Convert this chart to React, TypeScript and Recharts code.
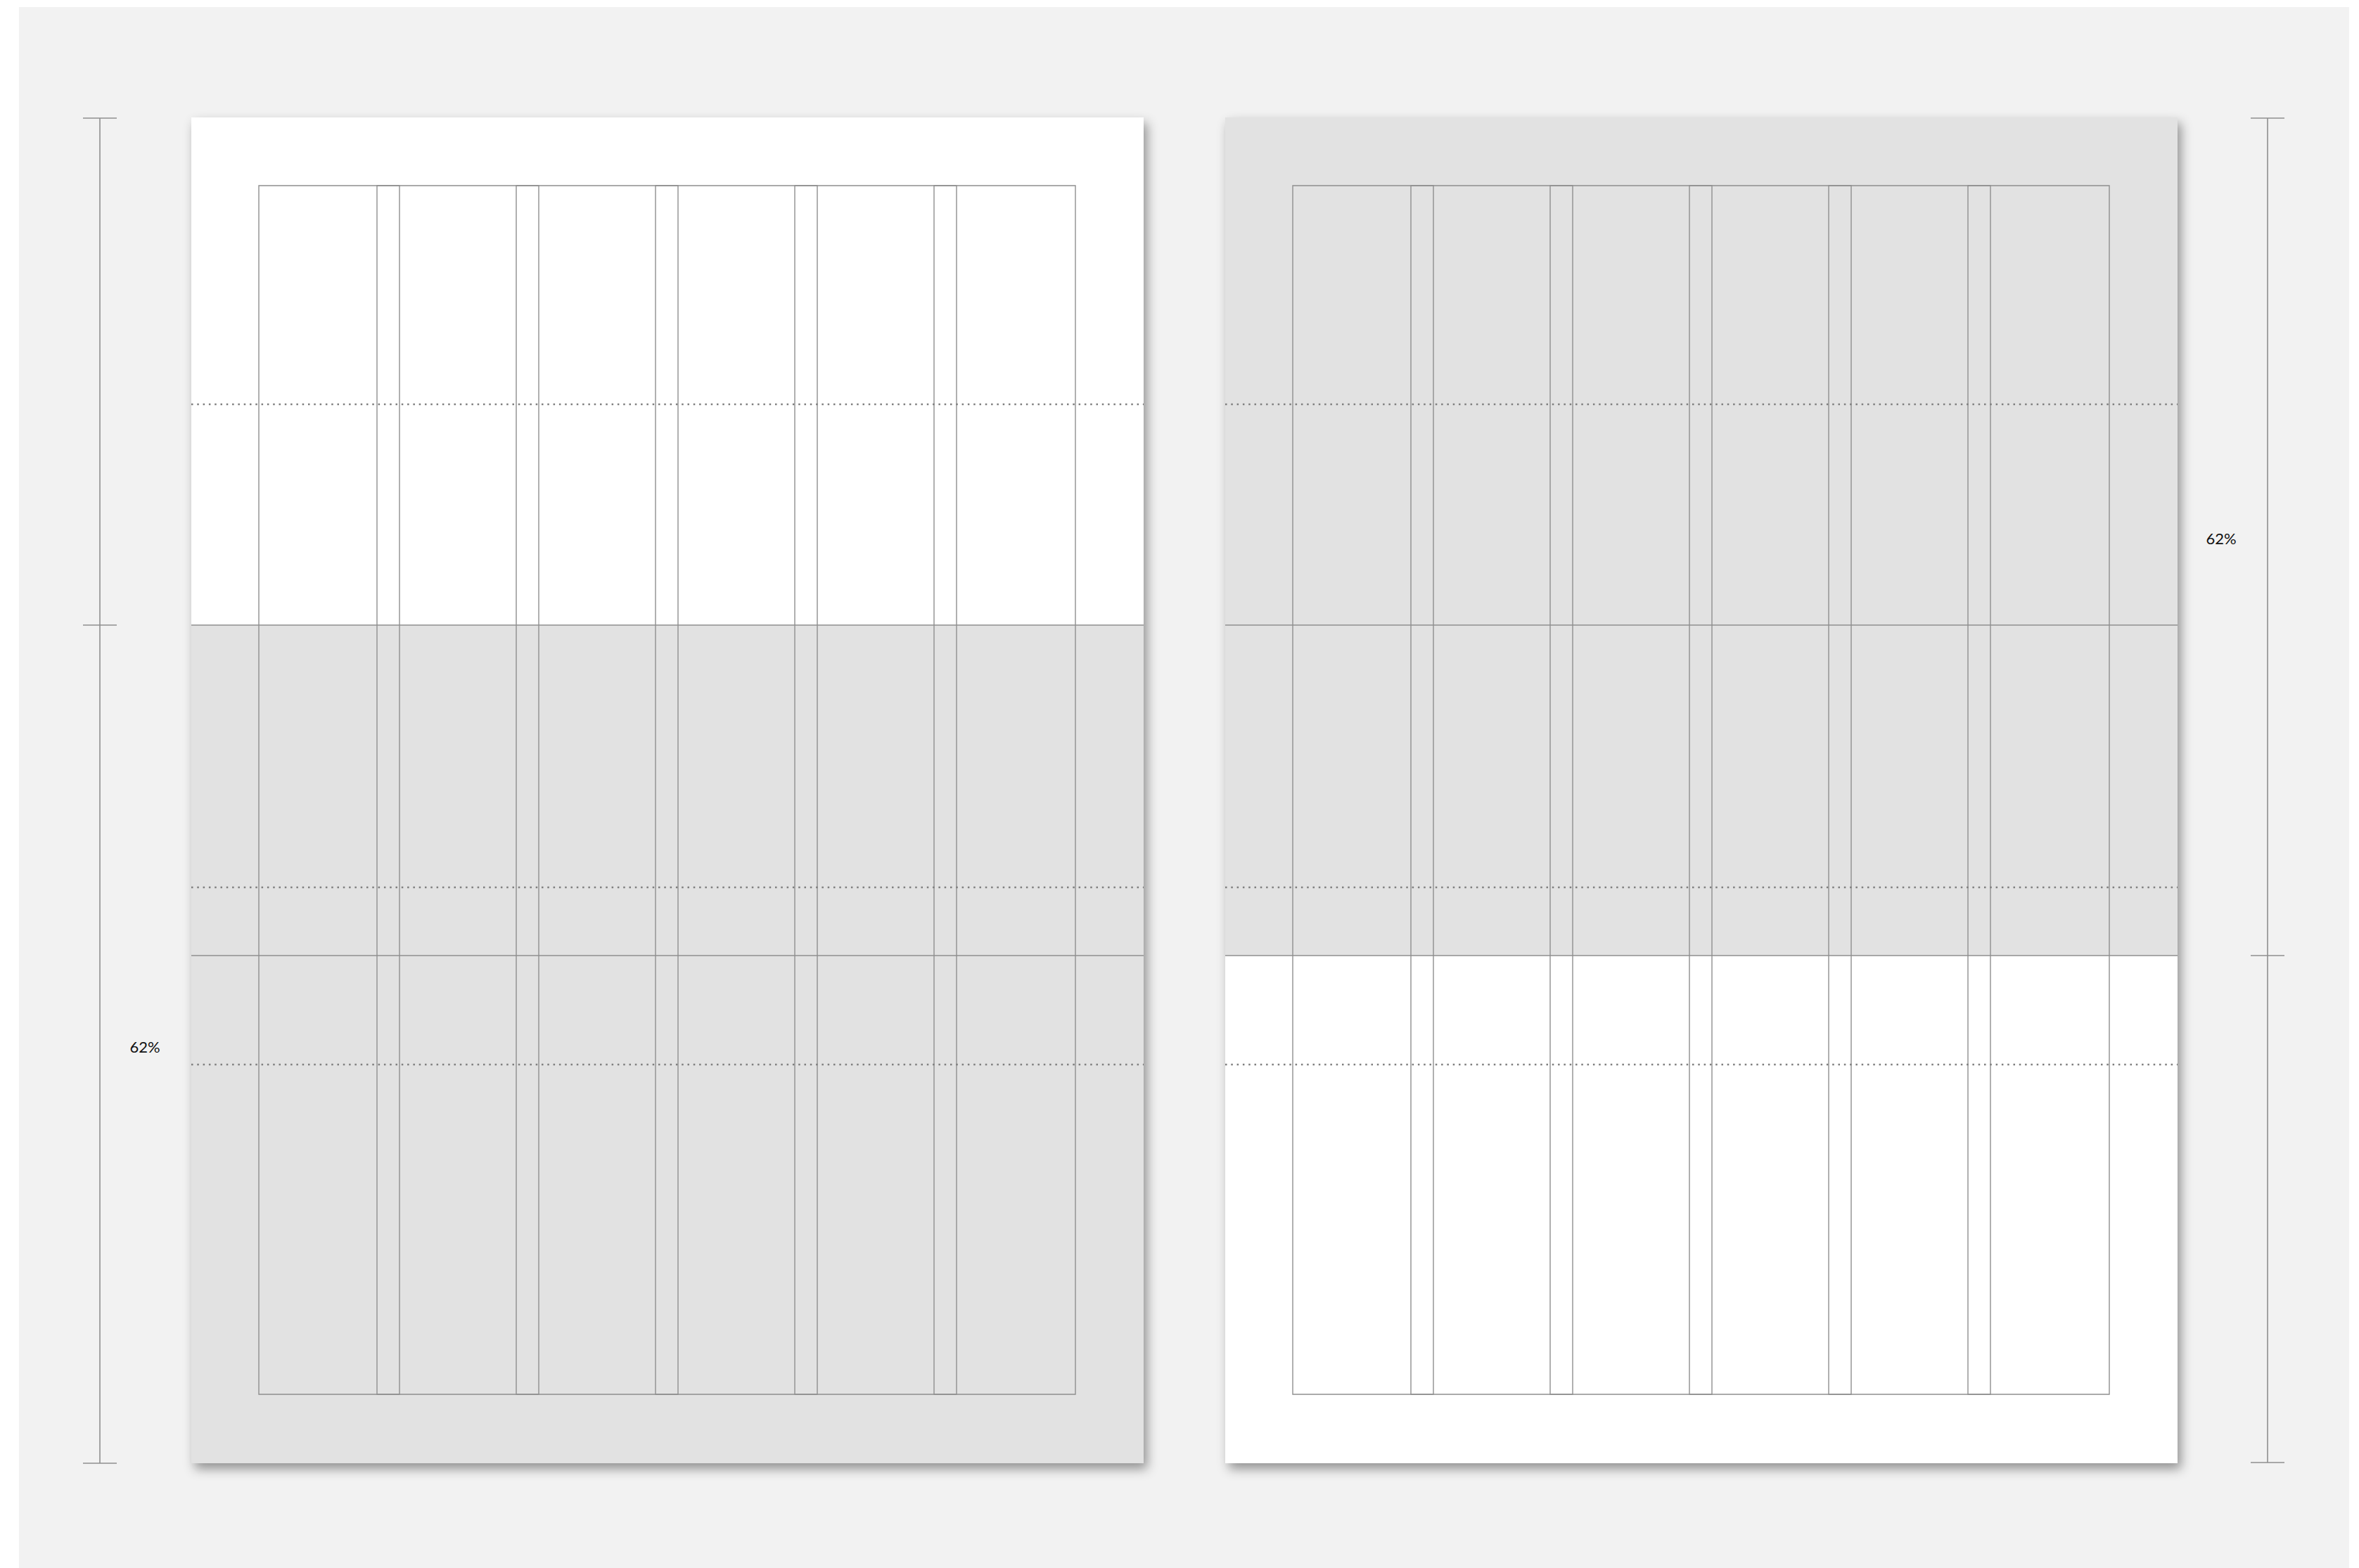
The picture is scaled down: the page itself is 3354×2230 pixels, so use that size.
import React from "react";
import {
  ComposedChart,
  XAxis,
  YAxis,
  ReferenceArea,
  ReferenceLine,
  Scatter,
} from "recharts";

// ---------------------------------------------------------------------------
// Layout values (pixels of the spread)
// ---------------------------------------------------------------------------

const W = 3354;
const H = 2230;

const pageLeft = [272, 1742];
const pageWidth = 1354;
const pageTop = 167;
const pageBottom = 2081;

// gray part of each page: [top, bottom]
const grayBands = [
  [889, 2081],
  [167, 1359],
];

// type area inside each page (offsets from page left)
const innerLeft = 96;
const innerRight = 1257;
const innerTop = 264;
const innerBottom = 1983;

// column gutters (offsets from page left), all 32 wide
const gutterStarts = [264, 462, 660, 858, 1056];
const gutterWidth = 32;

// horizontal guides
const dottedRows = [575, 1262, 1514];
const solidRows = [889, 1359];

// dimension bars: x, ticks
const dimBars = [
  { x: 142, ticks: [168, 889, 2081] },
  { x: 3224, ticks: [168, 1359, 2080] },
];

const labels = [
  { x: 206, y: 1488, text: "62%" },
  { x: 3158, y: 765, text: "62%" },
];

const lineColor = "#8f8f8f";

function PageShape(props: any) {
  const { x, y, width, height } = props;
  return (
    <g>
      <defs>
        <filter id="pageShadow" x="-10%" y="-10%" width="120%" height="120%">
          <feDropShadow dx="5" dy="8" stdDeviation="8" floodColor="#000" floodOpacity="0.4" />
        </filter>
      </defs>
      <rect x={x} y={y} width={width} height={height} fill="#ffffff" filter="url(#pageShadow)" />
    </g>
  );
}

function LabelShape(props: any) {
  const { cx, cy, payload } = props;
  return (
    <text
      x={cx}
      y={cy}
      textAnchor="middle"
      dominantBaseline="central"
      fontFamily="Lato, 'Open Sans', sans-serif"
      fontSize={22}
      fill="#111"
    >
      {payload.text}
    </text>
  );
}

export default function App() {
  return (
    <div style={{ position: "absolute", left: 0, top: 0, width: W, height: H, background: "#fff" }}>
      <ComposedChart width={W} height={H} margin={{ top: 0, right: 0, bottom: 0, left: 0 }} data={labels}>
        <XAxis type="number" dataKey="x" domain={[0, W]} hide allowDataOverflow />
        <YAxis type="number" dataKey="y" domain={[0, H]} reversed hide allowDataOverflow />

        {/* backdrop */}
        <ReferenceArea x1={27} x2={3340} y1={10} y2={H} fill="#f2f2f2" fillOpacity={1} stroke="none" />

        {/* pages */}
        {pageLeft.map((px, i) => (
          <ReferenceArea
            key={`page-${i}`}
            x1={px}
            x2={px + pageWidth}
            y1={pageTop}
            y2={pageBottom}
            shape={<PageShape />}
          />
        ))}
        {pageLeft.map((px, i) => (
          <ReferenceArea
            key={`gray-${i}`}
            x1={px}
            x2={px + pageWidth}
            y1={grayBands[i][0]}
            y2={grayBands[i][1]}
            fill="#e2e2e2"
            fillOpacity={1}
            stroke="none"
          />
        ))}

        {/* type area */}
        {pageLeft.map((px, i) => (
          <ReferenceArea
            key={`inner-${i}`}
            x1={px + innerLeft}
            x2={px + innerRight}
            y1={innerTop}
            y2={innerBottom}
            fill="none"
            stroke={lineColor}
            strokeWidth={1.4}
          />
        ))}

        {/* gutters */}
        {pageLeft.flatMap((px, i) =>
          gutterStarts.map((g, j) => (
            <ReferenceArea
              key={`gut-${i}-${j}`}
              x1={px + g}
              x2={px + g + gutterWidth}
              y1={innerTop}
              y2={innerBottom}
              fill="none"
              stroke={lineColor}
              strokeWidth={1.4}
            />
          ))
        )}

        {/* guides */}
        {pageLeft.flatMap((px, i) =>
          dottedRows.map((r, j) => (
            <ReferenceLine
              key={`dot-${i}-${j}`}
              segment={[
                { x: px, y: r },
                { x: px + pageWidth, y: r },
              ]}
              stroke="#7f7f7f"
              strokeWidth={2.5}
              strokeDasharray="2.5 5.8"
            />
          ))
        )}
        {pageLeft.flatMap((px, i) =>
          solidRows.map((r, j) => (
            <ReferenceLine
              key={`sol-${i}-${j}`}
              segment={[
                { x: px, y: r },
                { x: px + pageWidth, y: r },
              ]}
              stroke={lineColor}
              strokeWidth={1.6}
            />
          ))
        )}

        {/* dimension bars */}
        {dimBars.map((d, i) => (
          <ReferenceLine
            key={`dim-${i}`}
            segment={[
              { x: d.x, y: d.ticks[0] },
              { x: d.x, y: d.ticks[d.ticks.length - 1] },
            ]}
            stroke={lineColor}
            strokeWidth={1.6}
          />
        ))}
        {dimBars.flatMap((d, i) =>
          d.ticks.map((t, j) => (
            <ReferenceLine
              key={`tick-${i}-${j}`}
              segment={[
                { x: d.x - 24, y: t },
                { x: d.x + 24, y: t },
              ]}
              stroke={lineColor}
              strokeWidth={1.6}
            />
          ))
        )}

        <Scatter dataKey="y" data={labels} shape={<LabelShape />} isAnimationActive={false} />
      </ComposedChart>
    </div>
  );
}
